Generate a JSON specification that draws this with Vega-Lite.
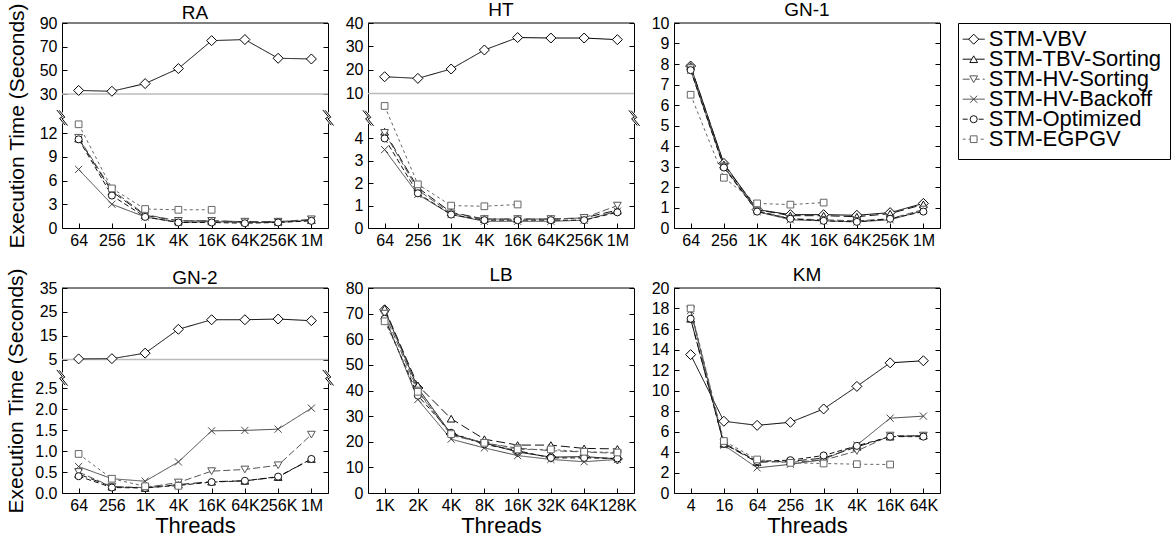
{
"$schema":"https://vega.github.io/schema/vega-lite/v6.json",
"background":"white",
"padding":{"left":5,"top":0,"right":0,"bottom":0},
"datasets":{
"RA":[
{"s":"VBV","t":"64","v":33},{"s":"VBV","t":"256","v":32.3},{"s":"VBV","t":"1K","v":38.8},{"s":"VBV","t":"4K","v":51.5},{"s":"VBV","t":"16K","v":75.1},{"s":"VBV","t":"64K","v":76},{"s":"VBV","t":"256K","v":60.2},{"s":"VBV","t":"1M","v":59.6},
{"s":"TBV","t":"64","v":11.3},{"s":"TBV","t":"256","v":4.6},{"s":"TBV","t":"1K","v":1.6},{"s":"TBV","t":"4K","v":0.9},{"s":"TBV","t":"16K","v":0.9},{"s":"TBV","t":"64K","v":0.8},{"s":"TBV","t":"256K","v":0.8},{"s":"TBV","t":"1M","v":1.0},
{"s":"HVS","t":"64","v":11.4},{"s":"HVS","t":"256","v":4.8},{"s":"HVS","t":"1K","v":1.7},{"s":"HVS","t":"4K","v":0.9},{"s":"HVS","t":"16K","v":0.9},{"s":"HVS","t":"64K","v":0.8},{"s":"HVS","t":"256K","v":0.8},{"s":"HVS","t":"1M","v":1.1},
{"s":"HVB","t":"64","v":7.4},{"s":"HVB","t":"256","v":3.0},{"s":"HVB","t":"1K","v":1.4},{"s":"HVB","t":"4K","v":0.7},{"s":"HVB","t":"16K","v":0.8},{"s":"HVB","t":"64K","v":0.7},{"s":"HVB","t":"256K","v":0.7},{"s":"HVB","t":"1M","v":1.0},
{"s":"OPT","t":"64","v":11.2},{"s":"OPT","t":"256","v":4.1},{"s":"OPT","t":"1K","v":1.4},{"s":"OPT","t":"4K","v":0.7},{"s":"OPT","t":"16K","v":0.7},{"s":"OPT","t":"64K","v":0.6},{"s":"OPT","t":"256K","v":0.7},{"s":"OPT","t":"1M","v":0.9},
{"s":"EG","t":"64","v":13.1},{"s":"EG","t":"256","v":5.0},{"s":"EG","t":"1K","v":2.4},{"s":"EG","t":"4K","v":2.3},{"s":"EG","t":"16K","v":2.3}
],
"HT":[
{"s":"VBV","t":"64","v":17.1},{"s":"VBV","t":"256","v":16.4},{"s":"VBV","t":"1K","v":20.4},{"s":"VBV","t":"4K","v":28.5},{"s":"VBV","t":"16K","v":33.8},{"s":"VBV","t":"64K","v":33.6},{"s":"VBV","t":"256K","v":33.6},{"s":"VBV","t":"1M","v":32.9},
{"s":"TBV","t":"64","v":4.3},{"s":"TBV","t":"256","v":1.8},{"s":"TBV","t":"1K","v":0.7},{"s":"TBV","t":"4K","v":0.4},{"s":"TBV","t":"16K","v":0.4},{"s":"TBV","t":"64K","v":0.4},{"s":"TBV","t":"256K","v":0.45},{"s":"TBV","t":"1M","v":0.8},
{"s":"HVS","t":"64","v":4.25},{"s":"HVS","t":"256","v":1.7},{"s":"HVS","t":"1K","v":0.65},{"s":"HVS","t":"4K","v":0.4},{"s":"HVS","t":"16K","v":0.4},{"s":"HVS","t":"64K","v":0.4},{"s":"HVS","t":"256K","v":0.45},{"s":"HVS","t":"1M","v":1.0},
{"s":"HVB","t":"64","v":3.5},{"s":"HVB","t":"256","v":1.5},{"s":"HVB","t":"1K","v":0.6},{"s":"HVB","t":"4K","v":0.3},{"s":"HVB","t":"16K","v":0.3},{"s":"HVB","t":"64K","v":0.3},{"s":"HVB","t":"256K","v":0.35},{"s":"HVB","t":"1M","v":0.75},
{"s":"OPT","t":"64","v":4.0},{"s":"OPT","t":"256","v":1.55},{"s":"OPT","t":"1K","v":0.6},{"s":"OPT","t":"4K","v":0.35},{"s":"OPT","t":"16K","v":0.35},{"s":"OPT","t":"64K","v":0.35},{"s":"OPT","t":"256K","v":0.35},{"s":"OPT","t":"1M","v":0.7},
{"s":"EG","t":"64","v":5.45},{"s":"EG","t":"256","v":1.95},{"s":"EG","t":"1K","v":1.0},{"s":"EG","t":"4K","v":0.97},{"s":"EG","t":"16K","v":1.05}
],
"GN1":[
{"s":"VBV","t":"64","v":7.9},{"s":"VBV","t":"256","v":3.15},{"s":"VBV","t":"1K","v":0.9},{"s":"VBV","t":"4K","v":0.65},{"s":"VBV","t":"16K","v":0.65},{"s":"VBV","t":"64K","v":0.62},{"s":"VBV","t":"256K","v":0.75},{"s":"VBV","t":"1M","v":1.2},
{"s":"TBV","t":"64","v":7.9},{"s":"TBV","t":"256","v":3.1},{"s":"TBV","t":"1K","v":0.9},{"s":"TBV","t":"4K","v":0.6},{"s":"TBV","t":"16K","v":0.6},{"s":"TBV","t":"64K","v":0.55},{"s":"TBV","t":"256K","v":0.7},{"s":"TBV","t":"1M","v":1.15},
{"s":"HVS","t":"64","v":7.8},{"s":"HVS","t":"256","v":3.0},{"s":"HVS","t":"1K","v":0.85},{"s":"HVS","t":"4K","v":0.45},{"s":"HVS","t":"16K","v":0.4},{"s":"HVS","t":"64K","v":0.35},{"s":"HVS","t":"256K","v":0.45},{"s":"HVS","t":"1M","v":0.9},
{"s":"HVB","t":"64","v":7.7},{"s":"HVB","t":"256","v":3.0},{"s":"HVB","t":"1K","v":0.8},{"s":"HVB","t":"4K","v":0.4},{"s":"HVB","t":"16K","v":0.35},{"s":"HVB","t":"64K","v":0.3},{"s":"HVB","t":"256K","v":0.4},{"s":"HVB","t":"1M","v":0.85},
{"s":"OPT","t":"64","v":7.7},{"s":"OPT","t":"256","v":2.95},{"s":"OPT","t":"1K","v":0.8},{"s":"OPT","t":"4K","v":0.45},{"s":"OPT","t":"16K","v":0.35},{"s":"OPT","t":"64K","v":0.3},{"s":"OPT","t":"256K","v":0.45},{"s":"OPT","t":"1M","v":0.8},
{"s":"EG","t":"64","v":6.5},{"s":"EG","t":"256","v":2.45},{"s":"EG","t":"1K","v":1.2},{"s":"EG","t":"4K","v":1.14},{"s":"EG","t":"16K","v":1.24}
],
"GN2":[
{"s":"VBV","t":"64","v":5.3},{"s":"VBV","t":"256","v":5.4},{"s":"VBV","t":"1K","v":7.7},{"s":"VBV","t":"4K","v":17.7},{"s":"VBV","t":"16K","v":21.7},{"s":"VBV","t":"64K","v":21.7},{"s":"VBV","t":"256K","v":22.0},{"s":"VBV","t":"1M","v":21.3},
{"s":"TBV","t":"64","v":0.45},{"s":"TBV","t":"256","v":0.15},{"s":"TBV","t":"1K","v":0.12},{"s":"TBV","t":"4K","v":0.2},{"s":"TBV","t":"16K","v":0.27},{"s":"TBV","t":"64K","v":0.29},{"s":"TBV","t":"256K","v":0.38},{"s":"TBV","t":"1M","v":0.81},
{"s":"HVS","t":"64","v":0.5},{"s":"HVS","t":"256","v":0.15},{"s":"HVS","t":"1K","v":0.13},{"s":"HVS","t":"4K","v":0.25},{"s":"HVS","t":"16K","v":0.52},{"s":"HVS","t":"64K","v":0.56},{"s":"HVS","t":"256K","v":0.66},{"s":"HVS","t":"1M","v":1.39},
{"s":"HVB","t":"64","v":0.63},{"s":"HVB","t":"256","v":0.34},{"s":"HVB","t":"1K","v":0.28},{"s":"HVB","t":"4K","v":0.74},{"s":"HVB","t":"16K","v":1.48},{"s":"HVB","t":"64K","v":1.49},{"s":"HVB","t":"256K","v":1.52},{"s":"HVB","t":"1M","v":2.02},
{"s":"OPT","t":"64","v":0.4},{"s":"OPT","t":"256","v":0.13},{"s":"OPT","t":"1K","v":0.12},{"s":"OPT","t":"4K","v":0.18},{"s":"OPT","t":"16K","v":0.26},{"s":"OPT","t":"64K","v":0.29},{"s":"OPT","t":"256K","v":0.39},{"s":"OPT","t":"1M","v":0.81},
{"s":"EG","t":"64","v":0.93},{"s":"EG","t":"256","v":0.34},{"s":"EG","t":"1K","v":0.16},{"s":"EG","t":"4K","v":0.17}
],
"LB":[
{"s":"VBV","t":"1K","v":71.5},{"s":"VBV","t":"2K","v":41},{"s":"VBV","t":"4K","v":23},{"s":"VBV","t":"8K","v":19.5},{"s":"VBV","t":"16K","v":16},{"s":"VBV","t":"32K","v":14},{"s":"VBV","t":"64K","v":14.2},{"s":"VBV","t":"128K","v":13.3},
{"s":"TBV","t":"1K","v":72},{"s":"TBV","t":"2K","v":42},{"s":"TBV","t":"4K","v":29},{"s":"TBV","t":"8K","v":21},{"s":"TBV","t":"16K","v":18.7},{"s":"TBV","t":"32K","v":18.7},{"s":"TBV","t":"64K","v":17.4},{"s":"TBV","t":"128K","v":17.2},
{"s":"HVS","t":"1K","v":70},{"s":"HVS","t":"2K","v":40},{"s":"HVS","t":"4K","v":22.5},{"s":"HVS","t":"8K","v":19.5},{"s":"HVS","t":"16K","v":17.5},{"s":"HVS","t":"32K","v":16.5},{"s":"HVS","t":"64K","v":16},{"s":"HVS","t":"128K","v":15.5},
{"s":"HVB","t":"1K","v":69},{"s":"HVB","t":"2K","v":36.5},{"s":"HVB","t":"4K","v":21},{"s":"HVB","t":"8K","v":17.6},{"s":"HVB","t":"16K","v":14.6},{"s":"HVB","t":"32K","v":13.1},{"s":"HVB","t":"64K","v":12.2},{"s":"HVB","t":"128K","v":13.1},
{"s":"OPT","t":"1K","v":68},{"s":"OPT","t":"2K","v":38},{"s":"OPT","t":"4K","v":23.5},{"s":"OPT","t":"8K","v":19},{"s":"OPT","t":"16K","v":16.5},{"s":"OPT","t":"32K","v":13.7},{"s":"OPT","t":"64K","v":13.7},{"s":"OPT","t":"128K","v":13.5},
{"s":"EG","t":"1K","v":67},{"s":"EG","t":"2K","v":39.5},{"s":"EG","t":"4K","v":23},{"s":"EG","t":"8K","v":19.6},{"s":"EG","t":"16K","v":17},{"s":"EG","t":"32K","v":17},{"s":"EG","t":"64K","v":16.1},{"s":"EG","t":"128K","v":15.8}
],
"KM":[
{"s":"VBV","t":"4","v":13.5},{"s":"VBV","t":"16","v":7.0},{"s":"VBV","t":"64","v":6.6},{"s":"VBV","t":"256","v":6.9},{"s":"VBV","t":"1K","v":8.2},{"s":"VBV","t":"4K","v":10.4},{"s":"VBV","t":"16K","v":12.7},{"s":"VBV","t":"64K","v":12.9},
{"s":"TBV","t":"4","v":17.0},{"s":"TBV","t":"16","v":4.8},{"s":"TBV","t":"64","v":3.0},{"s":"TBV","t":"256","v":3.1},{"s":"TBV","t":"1K","v":3.4},{"s":"TBV","t":"4K","v":4.5},{"s":"TBV","t":"16K","v":5.5},{"s":"TBV","t":"64K","v":5.6},
{"s":"HVS","t":"4","v":17.9},{"s":"HVS","t":"16","v":4.9},{"s":"HVS","t":"64","v":3.1},{"s":"HVS","t":"256","v":3.0},{"s":"HVS","t":"1K","v":3.2},{"s":"HVS","t":"4K","v":4.1},{"s":"HVS","t":"16K","v":5.6},{"s":"HVS","t":"64K","v":5.6},
{"s":"HVB","t":"4","v":17.8},{"s":"HVB","t":"16","v":4.67},{"s":"HVB","t":"64","v":2.45},{"s":"HVB","t":"256","v":2.8},{"s":"HVB","t":"1K","v":3.27},{"s":"HVB","t":"4K","v":4.67},{"s":"HVB","t":"16K","v":7.3},{"s":"HVB","t":"64K","v":7.5},
{"s":"OPT","t":"4","v":17.0},{"s":"OPT","t":"16","v":4.8},{"s":"OPT","t":"64","v":3.1},{"s":"OPT","t":"256","v":3.2},{"s":"OPT","t":"1K","v":3.66},{"s":"OPT","t":"4K","v":4.6},{"s":"OPT","t":"16K","v":5.5},{"s":"OPT","t":"64K","v":5.5},
{"s":"EG","t":"4","v":18.0},{"s":"EG","t":"16","v":5.07},{"s":"EG","t":"64","v":3.27},{"s":"EG","t":"256","v":2.94},{"s":"EG","t":"1K","v":2.88},{"s":"EG","t":"4K","v":2.81},{"s":"EG","t":"16K","v":2.78}
]
},
"hconcat":[
{"concat":[
{"title":{"text":"RA","offset":-20},"width":266,"height":205,"resolve":{"axis":{"y":"independent"}},"layer":[
{"data":{"values":[{}]},"mark":{"type":"rule","color":"#bbbbbb","strokeWidth":1.5},"encoding":{"y":{"datum":30,"type":"quantitative","scale":{"domain":[0,15,30,90],"range":[205,86.25,71,0]},"axis":null}}},
{"data":{"values":[{}]},"mark":{"type":"rule","color":"#000000","strokeWidth":1},"encoding":{"y":{"datum":90,"type":"quantitative","scale":{"domain":[0,15,30,90],"range":[205,86.25,71,0]},"axis":null}}},
{"data":{"name":"RA"},"mark":{"type":"line","strokeWidth":1},"encoding":{
"x":{"field":"t","type":"ordinal","sort":["64","256","1K","4K","16K","64K","256K","1M"],"scale":{"type":"point","padding":0.5},"axis":{"title":null}},
"y":{"field":"v","type":"quantitative","scale":{"domain":[0,15,30,90],"range":[205,86.25,71,0]},"axis":{"values":[0,3,6,9,12,30,50,70,90],"title":"Execution Time (Seconds)","titlePadding":12}},
"stroke":{"field":"s","type":"nominal","scale":{"domain":["VBV","TBV","HVS","HVB","OPT","EG"],"range":["#000000","#111111","#555555","#444444","#111111","#666666"]},"legend":null},
"strokeDash":{"field":"s","type":"nominal","scale":{"domain":["VBV","TBV","HVS","HVB","OPT","EG"],"range":[[1,0],[9,4],[7,3],[1,0],[5,3],[3,3]]},"legend":null}}},
{"data":{"name":"RA"},"mark":{"type":"point","filled":true,"fill":"white","strokeWidth":1,"opacity":1},"encoding":{
"x":{"field":"t","type":"ordinal","sort":["64","256","1K","4K","16K","64K","256K","1M"],"scale":{"type":"point","padding":0.5},"axis":{"title":null}},
"y":{"field":"v","type":"quantitative","scale":{"domain":[0,15,30,90],"range":[205,86.25,71,0]},"axis":{"orient":"right","values":[0,3,6,9,12,30,50,70,90],"labels":false,"title":null}},
"stroke":{"field":"s","type":"nominal","scale":{"domain":["VBV","TBV","HVS","HVB","OPT","EG"],"range":["#000000","#111111","#555555","#444444","#111111","#666666"]},"legend":null},
"shape":{"field":"s","type":"nominal","scale":{"domain":["VBV","TBV","HVS","HVB","OPT","EG"],"range":["diamond","triangle-up","triangle-down","M-1,-1L1,1M-1,1L1,-1","circle","square"]},"legend":null},
"size":{"field":"s","type":"nominal","scale":{"type":"ordinal","domain":["VBV","TBV","HVS","HVB","OPT","EG"],"range":[100,60,60,50,50,45]},"legend":null}}},
{"data":{"values":[{}]},"mark":{"type":"point","shape":"M-0.3,-0.7L0.3,-0.7L0.3,0.7L-0.3,0.7Z","filled":true,"fill":"white","strokeWidth":0,"size":256,"opacity":1},"encoding":{"x":{"value":0},"y":{"datum":13.9,"type":"quantitative","scale":{"domain":[0,15,30,90],"range":[205,86.25,71,0]},"axis":null}}},
{"data":{"values":[{}]},"mark":{"type":"point","shape":"M-0.3,-0.7L0.3,-0.7L0.3,0.7L-0.3,0.7Z","filled":true,"fill":"white","strokeWidth":0,"size":256,"opacity":1},"encoding":{"x":{"value":"width"},"y":{"datum":13.9,"type":"quantitative","scale":{"domain":[0,15,30,90],"range":[205,86.25,71,0]},"axis":null}}},
{"data":{"values":[{}]},"mark":{"type":"point","shape":"M-0.65,-1L0.05,-0.15L-0.3,0.05L0.4,0.9M-0.35,-0.95L0.35,-0.1L0,0.1L0.7,0.95","filled":false,"stroke":"black","strokeWidth":1,"size":256,"opacity":1},"encoding":{"x":{"value":0},"y":{"datum":13.9,"type":"quantitative","scale":{"domain":[0,15,30,90],"range":[205,86.25,71,0]},"axis":null}}},
{"data":{"values":[{}]},"mark":{"type":"point","shape":"M-0.65,-1L0.05,-0.15L-0.3,0.05L0.4,0.9M-0.35,-0.95L0.35,-0.1L0,0.1L0.7,0.95","filled":false,"stroke":"black","strokeWidth":1,"size":256,"opacity":1},"encoding":{"x":{"value":"width"},"y":{"datum":13.9,"type":"quantitative","scale":{"domain":[0,15,30,90],"range":[205,86.25,71,0]},"axis":null}}}
]},
{"title":{"text":"HT","offset":-4.5},"width":266,"height":205,"resolve":{"axis":{"y":"independent"}},"layer":[
{"data":{"values":[{}]},"mark":{"type":"rule","color":"#bbbbbb","strokeWidth":1.5},"encoding":{"y":{"datum":10,"type":"quantitative","scale":{"domain":[0,5.6,10,40],"range":[205,79.6,70.4,0]},"axis":null}}},
{"data":{"values":[{}]},"mark":{"type":"rule","color":"#000000","strokeWidth":1},"encoding":{"y":{"datum":40,"type":"quantitative","scale":{"domain":[0,5.6,10,40],"range":[205,79.6,70.4,0]},"axis":null}}},
{"data":{"name":"HT"},"mark":{"type":"line","strokeWidth":1},"encoding":{
"x":{"field":"t","type":"ordinal","sort":["64","256","1K","4K","16K","64K","256K","1M"],"scale":{"type":"point","padding":0.5},"axis":{"title":null}},
"y":{"field":"v","type":"quantitative","scale":{"domain":[0,5.6,10,40],"range":[205,79.6,70.4,0]},"axis":{"values":[0,1,2,3,4,10,20,30,40],"title":null}},
"stroke":{"field":"s","type":"nominal","scale":{"domain":["VBV","TBV","HVS","HVB","OPT","EG"],"range":["#000000","#111111","#555555","#444444","#111111","#666666"]},"legend":null},
"strokeDash":{"field":"s","type":"nominal","scale":{"domain":["VBV","TBV","HVS","HVB","OPT","EG"],"range":[[1,0],[9,4],[7,3],[1,0],[5,3],[3,3]]},"legend":null}}},
{"data":{"name":"HT"},"mark":{"type":"point","filled":true,"fill":"white","strokeWidth":1,"opacity":1},"encoding":{
"x":{"field":"t","type":"ordinal","sort":["64","256","1K","4K","16K","64K","256K","1M"],"scale":{"type":"point","padding":0.5},"axis":{"title":null}},
"y":{"field":"v","type":"quantitative","scale":{"domain":[0,5.6,10,40],"range":[205,79.6,70.4,0]},"axis":{"orient":"right","values":[0,1,2,3,4,10,20,30,40],"labels":false,"title":null}},
"stroke":{"field":"s","type":"nominal","scale":{"domain":["VBV","TBV","HVS","HVB","OPT","EG"],"range":["#000000","#111111","#555555","#444444","#111111","#666666"]},"legend":null},
"shape":{"field":"s","type":"nominal","scale":{"domain":["VBV","TBV","HVS","HVB","OPT","EG"],"range":["diamond","triangle-up","triangle-down","M-1,-1L1,1M-1,1L1,-1","circle","square"]},"legend":null},
"size":{"field":"s","type":"nominal","scale":{"type":"ordinal","domain":["VBV","TBV","HVS","HVB","OPT","EG"],"range":[100,60,60,50,50,45]},"legend":null}}},
{"data":{"values":[{}]},"mark":{"type":"point","shape":"M-0.3,-0.7L0.3,-0.7L0.3,0.7L-0.3,0.7Z","filled":true,"fill":"white","strokeWidth":0,"size":256,"opacity":1},"encoding":{"x":{"value":0},"y":{"datum":4.9,"type":"quantitative","scale":{"domain":[0,5.6,10,40],"range":[205,79.6,70.4,0]},"axis":null}}},
{"data":{"values":[{}]},"mark":{"type":"point","shape":"M-0.3,-0.7L0.3,-0.7L0.3,0.7L-0.3,0.7Z","filled":true,"fill":"white","strokeWidth":0,"size":256,"opacity":1},"encoding":{"x":{"value":"width"},"y":{"datum":4.9,"type":"quantitative","scale":{"domain":[0,5.6,10,40],"range":[205,79.6,70.4,0]},"axis":null}}},
{"data":{"values":[{}]},"mark":{"type":"point","shape":"M-0.65,-1L0.05,-0.15L-0.3,0.05L0.4,0.9M-0.35,-0.95L0.35,-0.1L0,0.1L0.7,0.95","filled":false,"stroke":"black","strokeWidth":1,"size":256,"opacity":1},"encoding":{"x":{"value":0},"y":{"datum":4.9,"type":"quantitative","scale":{"domain":[0,5.6,10,40],"range":[205,79.6,70.4,0]},"axis":null}}},
{"data":{"values":[{}]},"mark":{"type":"point","shape":"M-0.65,-1L0.05,-0.15L-0.3,0.05L0.4,0.9M-0.35,-0.95L0.35,-0.1L0,0.1L0.7,0.95","filled":false,"stroke":"black","strokeWidth":1,"size":256,"opacity":1},"encoding":{"x":{"value":"width"},"y":{"datum":4.9,"type":"quantitative","scale":{"domain":[0,5.6,10,40],"range":[205,79.6,70.4,0]},"axis":null}}}
]},
{"title":{"text":"GN-1","offset":-4.5},"width":266,"height":205,"resolve":{"axis":{"y":"independent"}},"layer":[
{"data":{"values":[{}]},"mark":{"type":"rule","color":"#000000","strokeWidth":1},"encoding":{"y":{"datum":10,"type":"quantitative","scale":{"domain":[0,10]},"axis":null}}},
{"data":{"name":"GN1"},"mark":{"type":"line","strokeWidth":1},"encoding":{
"x":{"field":"t","type":"ordinal","sort":["64","256","1K","4K","16K","64K","256K","1M"],"scale":{"type":"point","padding":0.5},"axis":{"title":null}},
"y":{"field":"v","type":"quantitative","scale":{"domain":[0,10]},"axis":{"values":[0,1,2,3,4,5,6,7,8,9,10],"title":null}},
"stroke":{"field":"s","type":"nominal","scale":{"domain":["VBV","TBV","HVS","HVB","OPT","EG"],"range":["#000000","#111111","#555555","#444444","#111111","#666666"]},"legend":null},
"strokeDash":{"field":"s","type":"nominal","scale":{"domain":["VBV","TBV","HVS","HVB","OPT","EG"],"range":[[1,0],[9,4],[7,3],[1,0],[5,3],[3,3]]},"legend":null}}},
{"data":{"name":"GN1"},"mark":{"type":"point","filled":true,"fill":"white","strokeWidth":1,"opacity":1},"encoding":{
"x":{"field":"t","type":"ordinal","sort":["64","256","1K","4K","16K","64K","256K","1M"],"scale":{"type":"point","padding":0.5},"axis":{"title":null}},
"y":{"field":"v","type":"quantitative","scale":{"domain":[0,10]},"axis":{"orient":"right","values":[0,1,2,3,4,5,6,7,8,9,10],"labels":false,"title":null}},
"stroke":{"field":"s","type":"nominal","scale":{"domain":["VBV","TBV","HVS","HVB","OPT","EG"],"range":["#000000","#111111","#555555","#444444","#111111","#666666"]},"legend":null},
"shape":{"field":"s","type":"nominal","scale":{"domain":["VBV","TBV","HVS","HVB","OPT","EG"],"range":["diamond","triangle-up","triangle-down","M-1,-1L1,1M-1,1L1,-1","circle","square"]},"legend":null},
"size":{"field":"s","type":"nominal","scale":{"type":"ordinal","domain":["VBV","TBV","HVS","HVB","OPT","EG"],"range":[100,60,60,50,50,45]},"legend":null}}}
]},
{"title":{"text":"GN-2","offset":-20},"width":266,"height":205,"resolve":{"axis":{"y":"independent"}},"layer":[
{"data":{"values":[{}]},"mark":{"type":"rule","color":"#bbbbbb","strokeWidth":1.5},"encoding":{"y":{"datum":5,"type":"quantitative","scale":{"domain":[0,2.75,5,35],"range":[205,89.5,71.6,0]},"axis":null}}},
{"data":{"values":[{}]},"mark":{"type":"rule","color":"#000000","strokeWidth":1},"encoding":{"y":{"datum":35,"type":"quantitative","scale":{"domain":[0,2.75,5,35],"range":[205,89.5,71.6,0]},"axis":null}}},
{"data":{"name":"GN2"},"mark":{"type":"line","strokeWidth":1},"encoding":{
"x":{"field":"t","type":"ordinal","sort":["64","256","1K","4K","16K","64K","256K","1M"],"scale":{"type":"point","padding":0.5},"axis":{"title":"Threads"}},
"y":{"field":"v","type":"quantitative","scale":{"domain":[0,2.75,5,35],"range":[205,89.5,71.6,0]},"axis":{"values":[0,0.5,1,1.5,2,2.5,5,15,25,35],"labelExpr":"datum.value >= 5 ? format(datum.value, 'd') : format(datum.value, '.1f')","title":"Execution Time (Seconds)","titlePadding":8}},
"stroke":{"field":"s","type":"nominal","scale":{"domain":["VBV","TBV","HVS","HVB","OPT","EG"],"range":["#000000","#111111","#555555","#444444","#111111","#666666"]},"legend":null},
"strokeDash":{"field":"s","type":"nominal","scale":{"domain":["VBV","TBV","HVS","HVB","OPT","EG"],"range":[[1,0],[9,4],[7,3],[1,0],[5,3],[3,3]]},"legend":null}}},
{"data":{"name":"GN2"},"mark":{"type":"point","filled":true,"fill":"white","strokeWidth":1,"opacity":1},"encoding":{
"x":{"field":"t","type":"ordinal","sort":["64","256","1K","4K","16K","64K","256K","1M"],"scale":{"type":"point","padding":0.5},"axis":{"title":"Threads"}},
"y":{"field":"v","type":"quantitative","scale":{"domain":[0,2.75,5,35],"range":[205,89.5,71.6,0]},"axis":{"orient":"right","values":[0,0.5,1,1.5,2,2.5,5,15,25,35],"labels":false,"title":null}},
"stroke":{"field":"s","type":"nominal","scale":{"domain":["VBV","TBV","HVS","HVB","OPT","EG"],"range":["#000000","#111111","#555555","#444444","#111111","#666666"]},"legend":null},
"shape":{"field":"s","type":"nominal","scale":{"domain":["VBV","TBV","HVS","HVB","OPT","EG"],"range":["diamond","triangle-up","triangle-down","M-1,-1L1,1M-1,1L1,-1","circle","square"]},"legend":null},
"size":{"field":"s","type":"nominal","scale":{"type":"ordinal","domain":["VBV","TBV","HVS","HVB","OPT","EG"],"range":[100,60,60,50,50,45]},"legend":null}}},
{"data":{"values":[{}]},"mark":{"type":"point","shape":"M-0.3,-0.7L0.3,-0.7L0.3,0.7L-0.3,0.7Z","filled":true,"fill":"white","strokeWidth":0,"size":256,"opacity":1},"encoding":{"x":{"value":0},"y":{"datum":2.74,"type":"quantitative","scale":{"domain":[0,2.75,5,35],"range":[205,89.5,71.6,0]},"axis":null}}},
{"data":{"values":[{}]},"mark":{"type":"point","shape":"M-0.3,-0.7L0.3,-0.7L0.3,0.7L-0.3,0.7Z","filled":true,"fill":"white","strokeWidth":0,"size":256,"opacity":1},"encoding":{"x":{"value":"width"},"y":{"datum":2.74,"type":"quantitative","scale":{"domain":[0,2.75,5,35],"range":[205,89.5,71.6,0]},"axis":null}}},
{"data":{"values":[{}]},"mark":{"type":"point","shape":"M-0.65,-1L0.05,-0.15L-0.3,0.05L0.4,0.9M-0.35,-0.95L0.35,-0.1L0,0.1L0.7,0.95","filled":false,"stroke":"black","strokeWidth":1,"size":256,"opacity":1},"encoding":{"x":{"value":0},"y":{"datum":2.74,"type":"quantitative","scale":{"domain":[0,2.75,5,35],"range":[205,89.5,71.6,0]},"axis":null}}},
{"data":{"values":[{}]},"mark":{"type":"point","shape":"M-0.65,-1L0.05,-0.15L-0.3,0.05L0.4,0.9M-0.35,-0.95L0.35,-0.1L0,0.1L0.7,0.95","filled":false,"stroke":"black","strokeWidth":1,"size":256,"opacity":1},"encoding":{"x":{"value":"width"},"y":{"datum":2.74,"type":"quantitative","scale":{"domain":[0,2.75,5,35],"range":[205,89.5,71.6,0]},"axis":null}}}
]},
{"title":{"text":"LB","offset":-4.5},"width":266,"height":205,"resolve":{"axis":{"y":"independent"}},"layer":[
{"data":{"values":[{}]},"mark":{"type":"rule","color":"#000000","strokeWidth":1},"encoding":{"y":{"datum":80,"type":"quantitative","scale":{"domain":[0,80]},"axis":null}}},
{"data":{"name":"LB"},"mark":{"type":"line","strokeWidth":1},"encoding":{
"x":{"field":"t","type":"ordinal","sort":["1K","2K","4K","8K","16K","32K","64K","128K"],"scale":{"type":"point","padding":0.5},"axis":{"title":"Threads"}},
"y":{"field":"v","type":"quantitative","scale":{"domain":[0,80]},"axis":{"values":[0,10,20,30,40,50,60,70,80],"title":null}},
"stroke":{"field":"s","type":"nominal","scale":{"domain":["VBV","TBV","HVS","HVB","OPT","EG"],"range":["#000000","#111111","#555555","#444444","#111111","#666666"]},"legend":null},
"strokeDash":{"field":"s","type":"nominal","scale":{"domain":["VBV","TBV","HVS","HVB","OPT","EG"],"range":[[1,0],[9,4],[7,3],[1,0],[5,3],[3,3]]},"legend":null}}},
{"data":{"name":"LB"},"mark":{"type":"point","filled":true,"fill":"white","strokeWidth":1,"opacity":1},"encoding":{
"x":{"field":"t","type":"ordinal","sort":["1K","2K","4K","8K","16K","32K","64K","128K"],"scale":{"type":"point","padding":0.5},"axis":{"title":"Threads"}},
"y":{"field":"v","type":"quantitative","scale":{"domain":[0,80]},"axis":{"orient":"right","values":[0,10,20,30,40,50,60,70,80],"labels":false,"title":null}},
"stroke":{"field":"s","type":"nominal","scale":{"domain":["VBV","TBV","HVS","HVB","OPT","EG"],"range":["#000000","#111111","#555555","#444444","#111111","#666666"]},"legend":null},
"shape":{"field":"s","type":"nominal","scale":{"domain":["VBV","TBV","HVS","HVB","OPT","EG"],"range":["diamond","triangle-up","triangle-down","M-1,-1L1,1M-1,1L1,-1","circle","square"]},"legend":null},
"size":{"field":"s","type":"nominal","scale":{"type":"ordinal","domain":["VBV","TBV","HVS","HVB","OPT","EG"],"range":[100,60,60,50,50,45]},"legend":null}}}
]},
{"title":{"text":"KM","offset":-4.5},"width":266,"height":205,"resolve":{"axis":{"y":"independent"}},"layer":[
{"data":{"values":[{}]},"mark":{"type":"rule","color":"#000000","strokeWidth":1},"encoding":{"y":{"datum":20,"type":"quantitative","scale":{"domain":[0,20]},"axis":null}}},
{"data":{"name":"KM"},"mark":{"type":"line","strokeWidth":1},"encoding":{
"x":{"field":"t","type":"ordinal","sort":["4","16","64","256","1K","4K","16K","64K"],"scale":{"type":"point","padding":0.5},"axis":{"title":"Threads"}},
"y":{"field":"v","type":"quantitative","scale":{"domain":[0,20]},"axis":{"values":[0,2,4,6,8,10,12,14,16,18,20],"title":null}},
"stroke":{"field":"s","type":"nominal","scale":{"domain":["VBV","TBV","HVS","HVB","OPT","EG"],"range":["#000000","#111111","#555555","#444444","#111111","#666666"]},"legend":null},
"strokeDash":{"field":"s","type":"nominal","scale":{"domain":["VBV","TBV","HVS","HVB","OPT","EG"],"range":[[1,0],[9,4],[7,3],[1,0],[5,3],[3,3]]},"legend":null}}},
{"data":{"name":"KM"},"mark":{"type":"point","filled":true,"fill":"white","strokeWidth":1,"opacity":1},"encoding":{
"x":{"field":"t","type":"ordinal","sort":["4","16","64","256","1K","4K","16K","64K"],"scale":{"type":"point","padding":0.5},"axis":{"title":"Threads"}},
"y":{"field":"v","type":"quantitative","scale":{"domain":[0,20]},"axis":{"orient":"right","values":[0,2,4,6,8,10,12,14,16,18,20],"labels":false,"title":null}},
"stroke":{"field":"s","type":"nominal","scale":{"domain":["VBV","TBV","HVS","HVB","OPT","EG"],"range":["#000000","#111111","#555555","#444444","#111111","#666666"]},"legend":null},
"shape":{"field":"s","type":"nominal","scale":{"domain":["VBV","TBV","HVS","HVB","OPT","EG"],"range":["diamond","triangle-up","triangle-down","M-1,-1L1,1M-1,1L1,-1","circle","square"]},"legend":null},
"size":{"field":"s","type":"nominal","scale":{"type":"ordinal","domain":["VBV","TBV","HVS","HVB","OPT","EG"],"range":[100,60,60,50,50,45]},"legend":null}}}
]}
],"columns":3,"spacing":{"row":60,"column":40},"bounds":"flush"},
{"width":212,"height":136,"view":{"stroke":"#000000","strokeWidth":1},
"data":{"values":[{"s":"VBV","name":"STM-VBV"},{"s":"TBV","name":"STM-TBV-Sorting"},{"s":"HVS","name":"STM-HV-Sorting"},{"s":"HVB","name":"STM-HV-Backoff"},{"s":"OPT","name":"STM-Optimized"},{"s":"EG","name":"STM-EGPGV"}]},
"layer":[
{"mark":{"type":"rule","strokeWidth":1},"encoding":{
"x":{"datum":0.022,"type":"quantitative","scale":{"domain":[0,1]},"axis":null},"x2":{"datum":0.126},
"y":{"field":"s","type":"nominal","sort":["VBV","TBV","HVS","HVB","OPT","EG"],"scale":{"type":"point","padding":0.9,"align":0.45},"axis":null},
"stroke":{"field":"s","type":"nominal","scale":{"domain":["VBV","TBV","HVS","HVB","OPT","EG"],"range":["#000000","#111111","#555555","#444444","#111111","#666666"]},"legend":null},
"strokeDash":{"field":"s","type":"nominal","scale":{"domain":["VBV","TBV","HVS","HVB","OPT","EG"],"range":[[1,0],[9,4],[7,3],[1,0],[5,3],[3,3]]},"legend":null}}},
{"mark":{"type":"point","filled":true,"fill":"white","strokeWidth":1,"opacity":1},"encoding":{
"x":{"datum":0.074,"type":"quantitative","scale":{"domain":[0,1]},"axis":null},
"y":{"field":"s","type":"nominal","sort":["VBV","TBV","HVS","HVB","OPT","EG"],"scale":{"type":"point","padding":0.9,"align":0.45},"axis":null},
"stroke":{"field":"s","type":"nominal","scale":{"domain":["VBV","TBV","HVS","HVB","OPT","EG"],"range":["#000000","#111111","#555555","#444444","#111111","#666666"]},"legend":null},
"shape":{"field":"s","type":"nominal","scale":{"domain":["VBV","TBV","HVS","HVB","OPT","EG"],"range":["diamond","triangle-up","triangle-down","M-1,-1L1,1M-1,1L1,-1","circle","square"]},"legend":null},
"size":{"field":"s","type":"nominal","scale":{"type":"ordinal","domain":["VBV","TBV","HVS","HVB","OPT","EG"],"range":[100,60,60,50,50,45]},"legend":null}}},
{"mark":{"type":"text","align":"left","baseline":"middle","fontSize":22,"font":"Liberation Sans","color":"#000000"},"encoding":{
"x":{"datum":0.145,"type":"quantitative","scale":{"domain":[0,1]},"axis":null},
"y":{"field":"s","type":"nominal","sort":["VBV","TBV","HVS","HVB","OPT","EG"],"scale":{"type":"point","padding":0.9,"align":0.45},"axis":null},
"text":{"field":"name"}}}
]}
],
"spacing":16,
"bounds":"full",
"config":{
"font":"Liberation Sans",
"view":{"stroke":null},
"title":{"fontSize":19,"fontWeight":"normal","offset":3,"frame":"group","color":"#000000","font":"Liberation Sans"},
"axis":{"grid":false,"domainColor":"#000000","domainWidth":1,"tickColor":"#000000","tickSize":-5,"labelFontSize":16,"labelColor":"#000000","labelFont":"Liberation Sans","titleFont":"Liberation Sans","titleFontWeight":"normal","titleColor":"#000000"},
"axisX":{"labelPadding":9,"titleFontSize":22,"titlePadding":2,"labelAngle":0,"labelOverlap":false},
"axisY":{"labelPadding":10,"titleFontSize":21,"labelOverlap":false}
}
}
